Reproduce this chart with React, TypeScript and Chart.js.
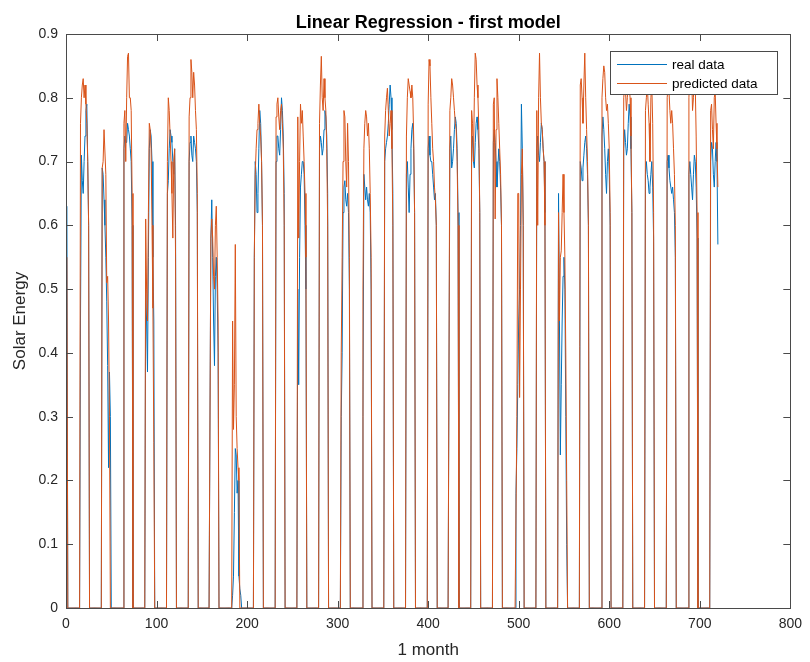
import React, { useEffect, useRef } from "react";
import { Chart, registerables } from "chart.js";

Chart.register(...registerables);

const TITLE = "Linear Regression - first model";
const X_LABEL = "1 month";
const Y_LABEL = "Solar Energy";
const SERIES_NAMES = ["real data", "predicted data"];
const X_TICKS = [0, 100, 200, 300, 400, 500, 600, 700, 800];
const Y_TICKS = [0, 0.1, 0.2, 0.3, 0.4, 0.5, 0.6, 0.7, 0.8, 0.9];

// hourly values, hour 1 .. 720 (one row per day)
const REAL_DATA = [
  0.63,
  0,0,0,0,0,0,0,0,0,0,0,0,0,0, 0.45,0.71,0.67,0.65,0.70,0.74,0.78,0.79,0.70,0.60,
  0,0,0,0,0,0,0,0,0,0,0,0,0,0, 0.69,0.68,0.64,0.60,0.55,0.48,0.38,0.22,0.37,0.30,
  0,0,0,0,0,0,0,0,0,0,0,0,0,0, 0.72,0.74,0.73,0.73,0.76,0.75,0.74,0.72,0.70,0.60,
  0,0,0,0,0,0,0,0,0,0,0,0,0,0, 0.50,0.45,0.37,0.55,0.72,0.75,0.74,0.70,0.55,0.45,
  0,0,0,0,0,0,0,0,0,0,0,0,0,0, 0.65,0.67,0.72,0.75,0.74,0.73,0.70,0.68,0.72,0.60,
  0,0,0,0,0,0,0,0,0,0,0,0,0,0, 0.70,0.73,0.74,0.71,0.70,0.74,0.73,0.72,0.70,0.62,
  0,0,0,0,0,0,0,0,0,0,0,0,0,0, 0.58,0.64,0.55,0.45,0.38,0.52,0.55,0.50,0.40,0,
  0,0,0,0,0,0,0,0,0,0,0,0,0,0, 0.02,0.05,0.15,0.25,0.24,0.18,0.20,0.05,0.03,0.02,
  0,0,0,0,0,0,0,0,0,0,0,0,0,0, 0.55,0.70,0.68,0.62,0.65,0.72,0.78,0.76,0.70,0.60,
  0,0,0,0,0,0,0,0,0,0,0,0,0,0, 0.70,0.74,0.74,0.72,0.71,0.75,0.80,0.78,0.74,0.65,
  0,0,0,0,0,0,0,0,0,0,0,0,0,0, 0.50,0.35,0.55,0.66,0.68,0.70,0.70,0.68,0.60,0.50,
  0,0,0,0,0,0,0,0,0,0,0,0,0,0, 0.72,0.74,0.73,0.71,0.72,0.75,0.78,0.77,0.74,0.65,
  0,0,0,0,0,0,0,0,0,0,0,0,0,0, 0.30,0.40,0.62,0.66,0.67,0.64,0.63,0.65,0.62,0.50,
  0,0,0,0,0,0,0,0,0,0,0,0,0,0, 0.30,0.68,0.66,0.64,0.66,0.64,0.63,0.65,0.62,0.50,
  0,0,0,0,0,0,0,0,0,0,0,0,0,0, 0.70,0.72,0.73,0.74,0.76,0.79,0.82,0.80,0.75,0.65,
  0,0,0,0,0,0,0,0,0,0,0,0,0,0, 0.68,0.70,0.66,0.62,0.68,0.72,0.75,0.76,0.72,0.62,
  0,0,0,0,0,0,0,0,0,0,0,0,0,0, 0.72,0.74,0.71,0.70,0.70,0.68,0.66,0.64,0.65,0.60,
  0,0,0,0,0,0,0,0,0,0,0,0,0,0, 0.72,0.74,0.69,0.70,0.72,0.75,0.77,0.76,0.72,0.62,
  0,0,0,0,0,0,0,0,0,0,0,0,0,0, 0.72,0.74,0.70,0.69,0.73,0.76,0.77,0.75,0.72,0.62,
  0,0,0,0,0,0,0,0,0,0,0,0,0,0, 0.73,0.75,0.73,0.70,0.66,0.69,0.72,0.70,0.66,0.60,
  0,0,0,0,0,0,0,0,0,0,0,0,0,0, 0,0.18,0.25,0.35,0.45,0.50,0.60,0.79,0.72,0.60,
  0,0,0,0,0,0,0,0,0,0,0,0,0,0, 0.72,0.74,0.71,0.70,0.73,0.76,0.75,0.72,0.70,0.62,
  0,0,0,0,0,0,0,0,0,0,0,0,0,0, 0.65,0.45,0.24,0.35,0.45,0.52,0.55,0.50,0.30,0.10,
  0,0,0,0,0,0,0,0,0,0,0,0,0,0, 0.70,0.69,0.67,0.69,0.71,0.73,0.74,0.72,0.68,0.60,
  0,0,0,0,0,0,0,0,0,0,0,0,0,0, 0.74,0.77,0.75,0.72,0.68,0.65,0.70,0.72,0.68,0.60,
  0,0,0,0,0,0,0,0,0,0,0,0,0,0, 0.72,0.75,0.73,0.71,0.72,0.76,0.79,0.77,0.72,0.62,
  0,0,0,0,0,0,0,0,0,0,0,0,0,0, 0.68,0.70,0.68,0.67,0.65,0.66,0.68,0.70,0.66,0.58,
  0,0,0,0,0,0,0,0,0,0,0,0,0,0, 0.70,0.71,0.69,0.67,0.66,0.65,0.66,0.64,0.62,0.55,
  0,0,0,0,0,0,0,0,0,0,0,0,0,0, 0.68,0.70,0.68,0.66,0.64,0.68,0.71,0.70,0.66,0.58,
  0,0,0,0,0,0,0,0,0,0,0,0,0,0, 0.70,0.73,0.72,0.68,0.66,0.70,0.73,0.70,0.57,
];

const PREDICTED_DATA = [
  0.55,
  0,0,0,0,0,0,0,0,0,0,0,0,0,0, 0.76,0.80,0.82,0.83,0.80,0.82,0.79,0.76,0.70,0.60,
  0,0,0,0,0,0,0,0,0,0,0,0,0,0, 0.69,0.70,0.75,0.75,0.68,0.51,0.52,0.45,0.30,0,
  0,0,0,0,0,0,0,0,0,0,0,0,0,0, 0.76,0.78,0.70,0.80,0.865,0.87,0.80,0.80,0.78,0.65,
  0,0,0,0,0,0,0,0,0,0,0,0,0,0, 0.61,0.50,0.45,0.62,0.76,0.75,0.72,0.60,0.47,0.26,
  0,0,0,0,0,0,0,0,0,0,0,0,0,0, 0.70,0.80,0.78,0.74,0.70,0.65,0.58,0.70,0.72,0.55,
  0,0,0,0,0,0,0,0,0,0,0,0,0,0, 0.77,0.80,0.86,0.84,0.80,0.84,0.82,0.78,0.75,0.65,
  0,0,0,0,0,0,0,0,0,0,0,0,0,0, 0.58,0.61,0.58,0.52,0.50,0.60,0.63,0.55,0.45,0,
  0,0,0,0,0,0,0,0,0,0,0,0,0,0, 0.45,0.28,0.35,0.57,0.30,0.25,0.22,0.20,0,0,
  0,0,0,0,0,0,0,0,0,0,0,0,0,0, 0.55,0.68,0.72,0.75,0.76,0.79,0.76,0.74,0.70,0.60,
  0,0,0,0,0,0,0,0,0,0,0,0,0,0, 0.77,0.79,0.80,0.77,0.75,0.78,0.79,0.76,0.72,0.60,
  0,0,0,0,0,0,0,0,0,0,0,0,0,0, 0.77,0.58,0.70,0.79,0.76,0.78,0.74,0.70,0.65,0.55,
  0,0,0,0,0,0,0,0,0,0,0,0,0,0, 0.76,0.82,0.865,0.80,0.78,0.83,0.80,0.78,0.72,0.60,
  0,0,0,0,0,0,0,0,0,0,0,0,0,0, 0.40,0.55,0.70,0.78,0.77,0.70,0.66,0.76,0.70,0.55,
  0,0,0,0,0,0,0,0,0,0,0,0,0,0, 0.50,0.72,0.76,0.78,0.77,0.74,0.76,0.72,0.65,0.55,
  0,0,0,0,0,0,0,0,0,0,0,0,0,0, 0.74,0.78,0.80,0.815,0.78,0.74,0.76,0.78,0.72,0.60,
  0,0,0,0,0,0,0,0,0,0,0,0,0,0, 0.74,0.80,0.83,0.82,0.81,0.80,0.82,0.80,0.74,0.62,
  0,0,0,0,0,0,0,0,0,0,0,0,0,0, 0.79,0.86,0.85,0.80,0.76,0.72,0.70,0.66,0.64,0.60,
  0,0,0,0,0,0,0,0,0,0,0,0,0,0, 0.78,0.80,0.83,0.82,0.80,0.78,0.76,0.75,0.70,0.60,
  0,0,0,0,0,0,0,0,0,0,0,0,0,0, 0.78,0.76,0.70,0.80,0.87,0.86,0.82,0.80,0.75,0.62,
  0,0,0,0,0,0,0,0,0,0,0,0,0,0, 0.79,0.80,0.61,0.75,0.83,0.80,0.76,0.72,0.68,0.60,
  0,0,0,0,0,0,0,0,0,0,0,0,0,0, 0,0,0.30,0.65,0.65,0.33,0.50,0.68,0.72,0.60,
  0,0,0,0,0,0,0,0,0,0,0,0,0,0, 0.78,0.60,0.80,0.87,0.80,0.76,0.75,0.72,0.70,0.60,
  0,0,0,0,0,0,0,0,0,0,0,0,0,0, 0.62,0.45,0.55,0.56,0.62,0.68,0.62,0.55,0.40,0.20,
  0,0,0,0,0,0,0,0,0,0,0,0,0,0, 0.82,0.83,0.80,0.76,0.82,0.87,0.80,0.75,0.70,0.60,
  0,0,0,0,0,0,0,0,0,0,0,0,0,0, 0.80,0.83,0.85,0.84,0.80,0.78,0.79,0.76,0.72,0.62,
  0,0,0,0,0,0,0,0,0,0,0,0,0,0, 0.80,0.82,0.81,0.78,0.80,0.83,0.82,0.80,0.74,0.62,
  0,0,0,0,0,0,0,0,0,0,0,0,0,0, 0.78,0.80,0.82,0.79,0.76,0.70,0.80,0.82,0.76,0.62,
  0,0,0,0,0,0,0,0,0,0,0,0,0,0, 0.80,0.82,0.81,0.78,0.76,0.78,0.76,0.72,0.68,0.60,
  0,0,0,0,0,0,0,0,0,0,0,0,0,0, 0.80,0.84,0.86,0.84,0.78,0.80,0.86,0.82,0.74,0.62,
  0,0,0,0,0,0,0,0,0,0,0,0,0,0, 0.78,0.79,0.75,0.72,0.80,0.81,0.76,0.72,0.66,
];

const COLORS = ["#0072BD", "#D95319"];
const FONT = "'Liberation Sans', Arial, Helvetica, sans-serif";
const AXIS_COLOR = "#262626";
const BOX_COLOR = "#4a4a4a";

const boxPlugin = {
  id: "matlabBox",
  afterDraw(chart: any) {
    const { ctx, chartArea } = chart;
    const { left, right, top, bottom } = chartArea;
    const xs = chart.scales.x;
    const ys = chart.scales.y;
    const tl = 7;
    ctx.save();
    ctx.strokeStyle = BOX_COLOR;
    ctx.lineWidth = 1;
    ctx.beginPath();
    X_TICKS.forEach((v) => {
      const px = Math.round(xs.getPixelForValue(v)) + 0.5;
      ctx.moveTo(px, bottom);
      ctx.lineTo(px, bottom - tl);
      ctx.moveTo(px, top);
      ctx.lineTo(px, top + tl);
    });
    Y_TICKS.forEach((v) => {
      const py = Math.round(ys.getPixelForValue(v)) + 0.5;
      ctx.moveTo(left, py);
      ctx.lineTo(left + tl, py);
      ctx.moveTo(right, py);
      ctx.lineTo(right - tl, py);
    });
    ctx.stroke();
    ctx.strokeRect(Math.round(left) + 0.5, Math.round(top) + 0.5, Math.round(right - left), Math.round(bottom - top));

    // title, centred over the plot area
    ctx.fillStyle = "#000000";
    ctx.font = `bold 18px ${FONT}`;
    ctx.textAlign = "center";
    ctx.textBaseline = "alphabetic";
    ctx.fillText(TITLE, (left + right) / 2, 27.5);

    // legend
    const lx = 610, ly = 51, lw = 167, lh = 43;
    ctx.fillStyle = "#ffffff";
    ctx.fillRect(lx, ly, lw, lh);
    ctx.strokeStyle = BOX_COLOR;
    ctx.strokeRect(lx + 0.5, ly + 0.5, lw, lh);
    const rowsY = [64, 83];
    ctx.font = `13.5px ${FONT}`;
    ctx.textBaseline = "middle";
    ctx.textAlign = "left";
    SERIES_NAMES.forEach((name, i) => {
      ctx.strokeStyle = COLORS[i];
      ctx.beginPath();
      ctx.moveTo(617, rowsY[i] + 0.5);
      ctx.lineTo(667, rowsY[i] + 0.5);
      ctx.stroke();
      ctx.fillStyle = "#000000";
      ctx.fillText(name, 672, rowsY[i] + 1);
    });
    ctx.restore();
  },
};

export default function App() {
  const ref = useRef<HTMLCanvasElement | null>(null);
  useEffect(() => {
    if (!ref.current) return;
    const chart = new Chart(ref.current, {
      type: "line",
      data: {
        datasets: [
          {
            label: SERIES_NAMES[0],
            data: REAL_DATA.map((y, i) => ({ x: i + 1, y })),
            borderColor: COLORS[0],
            borderWidth: 1,
            pointRadius: 0,
            tension: 0,
            fill: false,
            order: 2,
          },
          {
            label: SERIES_NAMES[1],
            data: PREDICTED_DATA.map((y, i) => ({ x: i + 1, y })),
            borderColor: COLORS[1],
            borderWidth: 1,
            pointRadius: 0,
            tension: 0,
            fill: false,
            order: 1,
          },
        ],
      },
      options: {
        responsive: false,
        animation: false,
        devicePixelRatio: 1,
        layout: { padding: { left: 0, right: 15, top: 34, bottom: 0 } },
        plugins: {
          legend: { display: false },
          tooltip: { enabled: false },
          title: { display: false },
        },
        scales: {
          x: {
            type: "linear",
            min: 0,
            max: 800,
            afterBuildTicks: (s: any) => {
              s.ticks = X_TICKS.map((v) => ({ value: v }));
            },
            afterFit: (s: any) => {
              s.height = 54;
            },
            grid: { display: false, drawTicks: false },
            border: { display: false },
            ticks: {
              color: AXIS_COLOR,
              font: { family: FONT, size: 14 },
              padding: 8,
              maxRotation: 0,
              autoSkip: false,
            },
            title: {
              display: true,
              text: X_LABEL,
              color: AXIS_COLOR,
              font: { family: FONT, size: 17 },
              padding: { top: 0, bottom: 1 },
            },
          },
          y: {
            type: "linear",
            min: 0,
            max: 0.9,
            afterBuildTicks: (s: any) => {
              s.ticks = Y_TICKS.map((v) => ({ value: v }));
            },
            afterFit: (s: any) => {
              s.width = 66;
            },
            grid: { display: false, drawTicks: false },
            border: { display: false },
            ticks: {
              color: AXIS_COLOR,
              font: { family: FONT, size: 14 },
              padding: 8,
              autoSkip: false,
              callback: (v: any) => String(Number(Number(v).toFixed(1))),
            },
            title: {
              display: true,
              text: Y_LABEL,
              color: AXIS_COLOR,
              font: { family: FONT, size: 17 },
              padding: { top: 10, bottom: 0 },
            },
          },
        },
      },
      plugins: [boxPlugin],
    } as any);
    return () => chart.destroy();
  }, []);

  return (
    <div style={{ position: "fixed", left: 0, top: 0, width: 810, height: 662, background: "#ffffff" }}>
      <canvas ref={ref} width={810} height={662} style={{ width: 810, height: 662, display: "block" }} />
    </div>
  );
}
